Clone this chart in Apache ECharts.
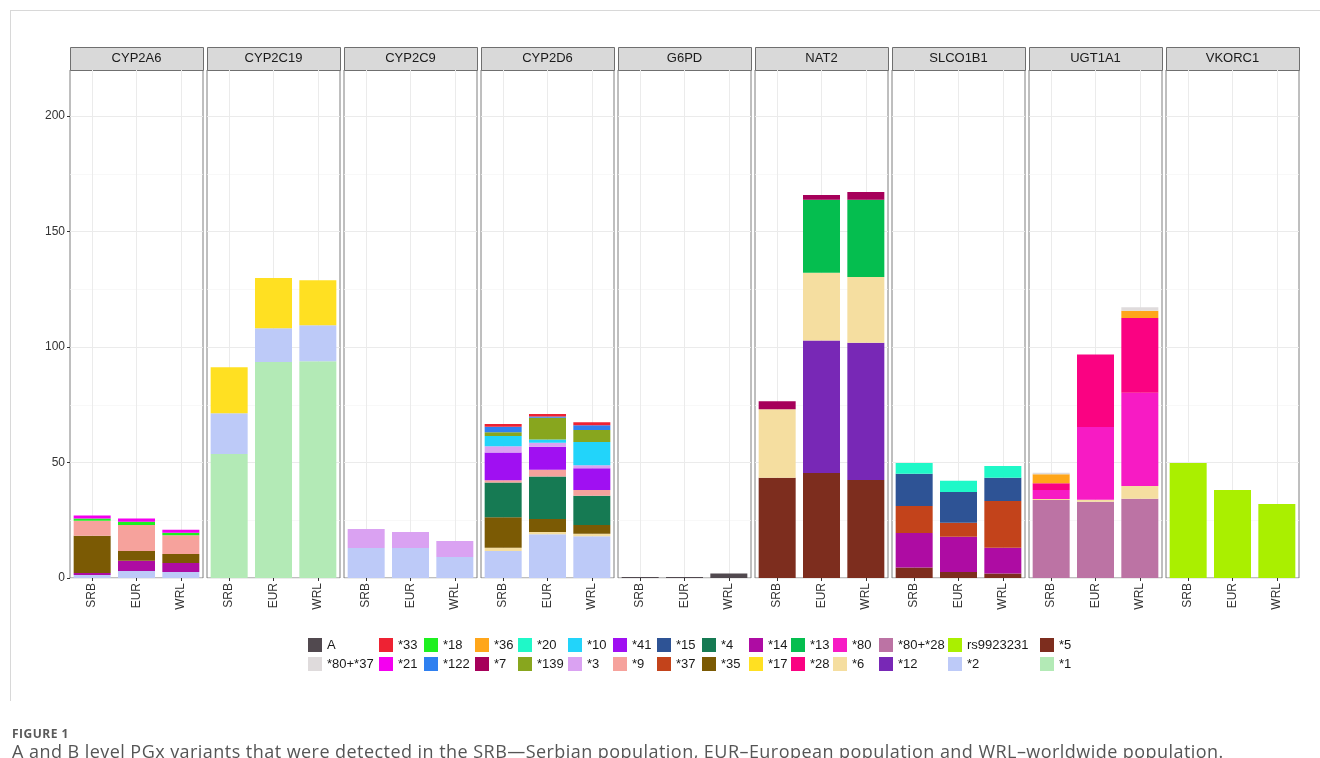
<!DOCTYPE html>
<html>
<head>
<meta charset="utf-8">
<script src="https://cdn.jsdelivr.net/npm/echarts@6/dist/echarts.min.js"></script>
<style>
  body { margin: 0; background: #fff; }
  #wrap { position: relative; width: 1320px; height: 758px; overflow: hidden; }
  #chart { position: absolute; left: 0; top: 0; width: 1320px; height: 758px; }
  #frame { position: absolute; left: 10px; top: 10px; width: 1310px; height: 690px;
           border-top: 1px solid #d8d8d8; border-left: 1px solid #d8d8d8; }
  #figno { position: absolute; left: 12px; top: 725px; font: bold 12px "Open Sans", "Liberation Sans", sans-serif;
           color: #5a5a5a; letter-spacing: 0.5px; }
  #caption { position: absolute; left: 12px; top: 740px; font: 18px "Open Sans", "Liberation Sans", sans-serif;
             color: #555; white-space: nowrap; letter-spacing: 0.45px; line-height: 22px; }
</style>
</head>
<body>
<div id="wrap">
  <div id="frame"></div>
  <div id="chart"></div>
  <div id="figno">FIGURE 1</div>
  <div id="caption">A and B level PGx variants that were detected in the SRB—Serbian population, EUR–European population and WRL–worldwide population.</div>
</div>
<script>
// populations on the x axis of every panel
var populations = ['SRB', 'EUR', 'WRL'];
var genes = ['CYP2A6', 'CYP2C19', 'CYP2C9', 'CYP2D6', 'G6PD', 'NAT2', 'SLCO1B1', 'UGT1A1', 'VKORC1'];

// stacking order, bottom -> top
var stackOrder = ['*1', '*5', '*2', 'rs9923231', '*12', '*80+*28', '*6', '*80', '*28', '*13', '*17', '*14',
  '*35', '*4', '*37', '*15', '*9', '*41', '*3', '*10', '*139', '*20', '*7', '*36', '*122', '*18', '*21',
  '*33', '*80+*37', 'A'];

// values per gene: variant -> [SRB, EUR, WRL]
var cyp2a6 = { '*2': [1.3, 3.0, 2.6], '*14': [0.9, 4.5, 3.9], '*35': [16.1, 4.2, 3.9], '*9': [6.5, 11.2, 8.1],
  '*18': [1.0, 1.5, 1.1], '*21': [1.3, 1.4, 1.3] };
var cyp2c19 = { '*1': [53.7, 93.5, 93.9], '*2': [17.7, 14.7, 15.6], '*17': [19.9, 21.7, 19.5] };
var cyp2c9 = { '*2': [13.0, 13.0, 9.1], '*3': [8.2, 6.9, 6.9] };
var cyp2d6 = { '*2': [11.7, 18.9, 18.1], '*6': [1.4, 1.0, 1.1], '*35': [13.2, 5.6, 3.7], '*4': [15.1, 18.5, 12.7],
  '*9': [0.9, 2.9, 2.5], '*41': [12.0, 9.9, 9.4], '*3': [2.8, 1.8, 1.3], '*10': [4.4, 1.4, 10.1],
  '*139': [1.6, 9.4, 5.2], '*122': [2.4, 0.5, 2.1], '*33': [1.2, 1.1, 1.2] };
var g6pd = { 'A': [0.4, 0.4, 2.0] };
var nat2 = { '*5': [43.4, 45.5, 42.4], '*12': [0, 57.4, 59.5], '*6': [29.7, 29.3, 28.5], '*13': [0, 31.6, 33.4],
  '*7': [3.4, 2.1, 3.4] };
var slco1b1 = { '*5': [4.6, 2.6, 1.9], '*14': [14.9, 15.3, 11.2], '*37': [11.7, 6.0, 20.2], '*15': [14.0, 13.3, 10.1],
  '*20': [4.6, 4.9, 5.1] };
var ugt1a1 = { '*80+*28': [33.8, 33.0, 34.3], '*6': [0.4, 0.9, 5.5], '*80': [3.9, 31.5, 40.4], '*28': [2.9, 31.4, 32.4],
  '*36': [3.9, 0, 3.1], '*80+*37': [0.7, 0, 1.5] };
var vkorc1 = { 'rs9923231': [49.8, 38.1, 32.0] };
var geneData = [cyp2a6, cyp2c19, cyp2c9, cyp2d6, g6pd, nat2, slco1b1, ugt1a1, vkorc1];

var yTicks = [0, 50, 100, 150, 200];

// legend layout (2 rows, column major like ggplot)
var legendRow1 = ['A', '*33', '*18', '*36', '*20', '*10', '*41', '*15', '*4', '*14', '*13', '*80', '*80+*28', 'rs9923231', '*5'];
var legendRow2 = ['*80+*37', '*21', '*122', '*7', '*139', '*3', '*9', '*37', '*35', '*17', '*28', '*6', '*12', '*2', '*1'];
var legendX = [308, 379, 424, 475, 518, 568, 613, 657, 702, 749, 791, 833, 879, 948, 1040];

var colors = {
  'A': '#51494f', '*80+*37': '#dfdbdc', '*33': '#ee2233', '*21': '#f400f0', '*18': '#1ef020', '*122': '#2f80f0',
  '*36': '#ffa61a', '*7': '#a6005a', '*20': '#1ff8c8', '*139': '#88a61e', '*10': '#22d4fa', '*3': '#daa2f2',
  '*41': '#a010f2', '*9': '#f6a29c', '*15': '#2e5395', '*37': '#c3431b', '*4': '#167a53', '*35': '#7b5a04',
  '*14': '#ae0ca3', '*17': '#ffe022', '*13': '#05be4f', '*28': '#fa0282', '*80': '#f71bc4', '*6': '#f5dea0',
  '*80+*28': '#bc73a4', '*12': '#7828b6', 'rs9923231': '#aaef00', '*2': '#bdcaf8', '*5': '#7d2d1e', '*1': '#b3eab6'
};

var FONT = '"Liberation Sans", Arial, sans-serif';
var panelLeft = 70, panelW = 133, panelGap = 4, panelTop = 70, panelBottom = 578;
var stripTop = 47;

var grids = [], xAxes = [], yAxes = [], series = [], graphics = [];

genes.forEach(function (gene, g) {
  var left = panelLeft + g * (panelW + panelGap);
  grids.push({
    left: left, top: panelTop, width: panelW, height: panelBottom - panelTop,
    show: true, borderColor: '#7f7f7f', borderWidth: 1, backgroundColor: '#fff'
  });
  xAxes.push({
    type: 'category', gridIndex: g, data: populations,
    axisLine: { show: false },
    axisTick: { show: true, alignWithLabel: true, length: 3, lineStyle: { color: '#333' } },
    axisLabel: { rotate: 90, margin: 5, fontSize: 12, color: '#333', fontFamily: FONT },
    splitLine: { show: false }
  });
  yAxes.push({
    type: 'value', gridIndex: g, min: 0, max: 220, interval: 50,
    axisLine: { show: false },
    axisTick: { show: g === 0, length: 3, lineStyle: { color: '#333' }, customValues: yTicks },
    axisLabel: {
      show: g === 0, margin: 5, fontSize: 12, color: '#333', fontFamily: FONT, customValues: yTicks
    },
    splitLine: { show: true, lineStyle: { color: '#ebebeb', width: 1 } },
    minorTick: { show: false, splitNumber: 2 },
    minorSplitLine: { show: true, lineStyle: { color: '#f5f5f5', width: 0.7 } }
  });

  // vertical grid lines at the category centres
  series.push({
    type: 'line', xAxisIndex: g, yAxisIndex: g, data: [null, null, null], silent: true, z: 1,
    symbol: 'none',
    markLine: {
      silent: true, symbol: 'none', label: { show: false }, animation: false, z: 1,
      lineStyle: { color: '#ebebeb', width: 1, type: 'solid' },
      emphasis: { disabled: true },
      data: populations.map(function (p) { return { xAxis: p }; })
    }
  });

  var d = geneData[g];
  stackOrder.forEach(function (v) {
    if (!d[v]) return;
    series.push({
      type: 'bar', name: v, stack: 'st' + g, xAxisIndex: g, yAxisIndex: g,
      barWidth: 37, data: d[v], z: 3,
      itemStyle: { color: colors[v] },
      emphasis: { disabled: true }
    });
  });

  // facet strip
  graphics.push({
    type: 'rect', left: left, top: stripTop, silent: true,
    shape: { width: panelW, height: panelTop - stripTop },
    style: { fill: '#d9d9d9', stroke: '#6f6f6f', lineWidth: 1 }
  });
  graphics.push({
    type: 'text', silent: true, x: left + panelW / 2, y: (stripTop + panelTop) / 2,
    style: { text: gene, fill: '#1a1a1a', font: '13px ' + FONT, align: 'center', verticalAlign: 'middle' }
  });
});

var legends = legendX.map(function (x, i) {
  return {
    orient: 'vertical', left: x, top: 638, padding: 0,
    itemWidth: 14, itemHeight: 14, itemGap: 5, icon: 'rect',
    selectedMode: false,
    textStyle: { fontSize: 13, color: '#1a1a1a', fontFamily: FONT },
    data: [legendRow1[i], legendRow2[i]]
  };
});

var chart = echarts.init(document.getElementById('chart'));
chart.setOption({
  backgroundColor: 'transparent',
  animation: false,
  grid: grids,
  xAxis: xAxes,
  yAxis: yAxes,
  legend: legends,
  graphic: graphics,
  series: series
});
</script>
</body>
</html>
